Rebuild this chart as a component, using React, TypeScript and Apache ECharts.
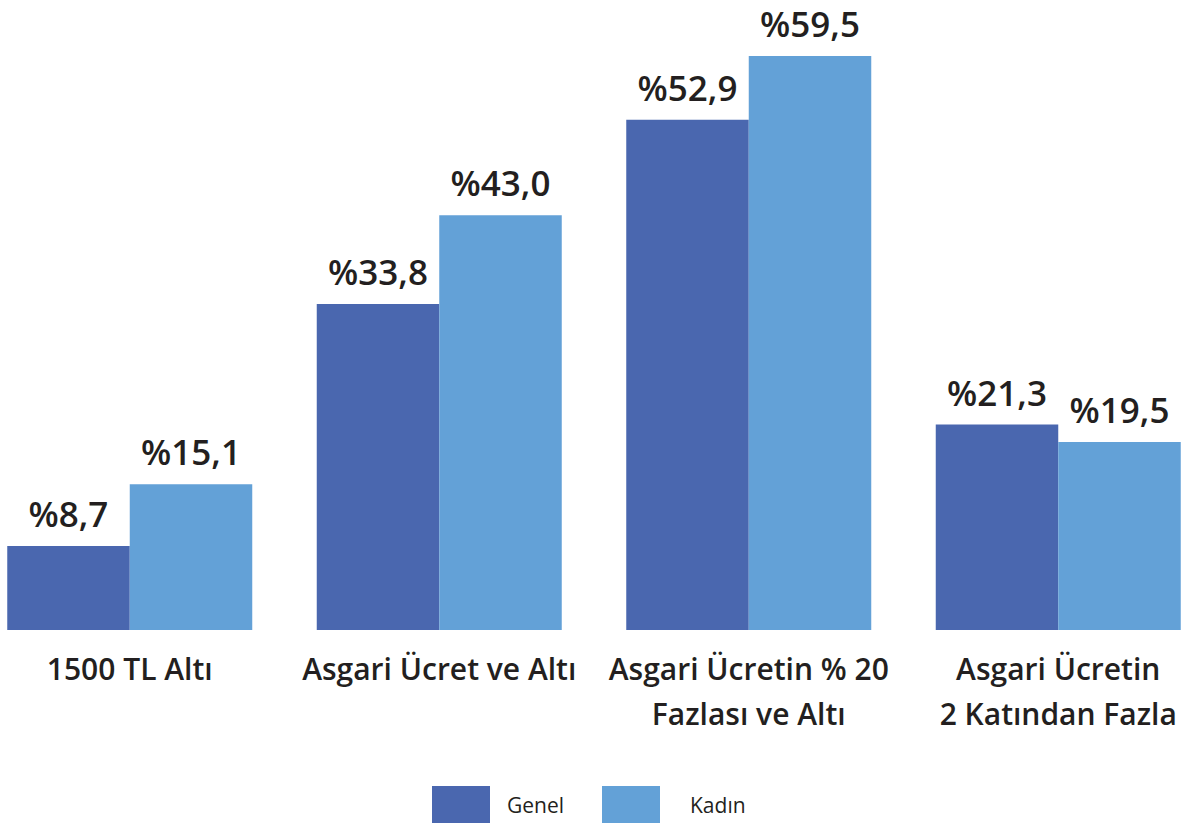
import React, { useEffect, useRef } from "react";
import * as echarts from "echarts";

const categories = [
  "1500 TL Altı",
  "Asgari Ücret ve Altı",
  "Asgari Ücretin % 20\nFazlası ve Altı",
  "Asgari Ücretin\n2 Katından Fazla",
];
const genel = [8.7, 33.8, 52.9, 21.3];
const kadin = [15.1, 43.0, 59.5, 19.5];
const seriesNames = ["Genel", "Kadın"];

const COLOR_GENEL = "#4A67AF";
const COLOR_KADIN = "#63A1D7";
const TEXT = "#231F20";
const FONT = "'Open Sans', sans-serif";

const fmt = (v: number) => "%" + v.toFixed(1).replace(".", ",");

const SHIFT = 25;

export default function App() {
  const ref = useRef<HTMLDivElement>(null);
  useEffect(() => {
    if (!ref.current) return;
    const chart = echarts.init(ref.current, null, { renderer: "svg" });
    const labelCfg = {
      show: true,
      position: "top" as const,
      distance: 15,
      color: TEXT,
      fontFamily: FONT,
      fontWeight: 600,
      fontSize: 35,
      formatter: (p: any) => fmt(p.value),
    };
    const legendText = {
      color: TEXT,
      fontFamily: FONT,
      fontSize: 21,
      fontWeight: 500,
    };
    chart.setOption({
      animation: false,
      backgroundColor: "#ffffff",
      grid: { left: 0, right: 0, top: 3, bottom: 195, containLabel: false },
      legend: [
        {
          data: [seriesNames[0]],
          left: 427 + SHIFT,
          top: 781,
          icon: "rect",
          itemWidth: 58,
          itemHeight: 37,
          textStyle: { ...legendText, padding: [0, 0, 0, 12] },
        },
        {
          data: [seriesNames[1]],
          left: 597 + SHIFT,
          top: 781,
          icon: "rect",
          itemWidth: 58,
          itemHeight: 37,
          textStyle: { ...legendText, padding: [0, 0, 0, 25] },
        },
      ],
      xAxis: {
        type: "category",
        data: categories,
        axisLine: { show: false },
        axisTick: { show: false },
        axisLabel: {
          color: TEXT,
          fontFamily: FONT,
          fontWeight: 600,
          fontSize: 30,
          lineHeight: 45,
          margin: 16,
          interval: 0,
        },
      },
      yAxis: {
        type: "value",
        min: 0,
        max: 65,
        show: false,
        splitLine: { show: false },
      },
      series: [
        {
          name: seriesNames[0],
          type: "bar",
          data: genel,
          barWidth: 122.5,
          barGap: "0%",
          itemStyle: { color: COLOR_GENEL },
          label: labelCfg,
        },
        {
          name: seriesNames[1],
          type: "bar",
          data: kadin,
          barWidth: 122.5,
          barGap: "0%",
          itemStyle: { color: COLOR_KADIN },
          label: labelCfg,
        },
      ],
    });
    return () => chart.dispose();
  }, []);
  return (
    <div
      style={{
        position: "fixed",
        left: 0,
        top: 0,
        width: 1184,
        height: 825,
        overflow: "hidden",
        background: "#ffffff",
      }}
    >
      <div
        ref={ref}
        style={{ position: "absolute", left: -SHIFT, top: 0, width: 1238, height: 825 }}
      />
    </div>
  );
}
